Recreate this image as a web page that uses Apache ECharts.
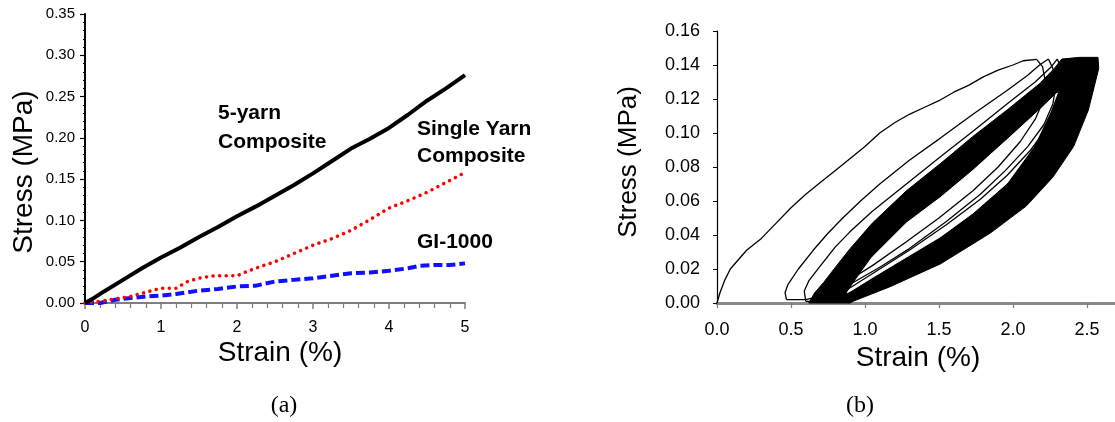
<!DOCTYPE html>
<html><head><meta charset="utf-8">
<script src="https://cdn.jsdelivr.net/npm/echarts@6/dist/echarts.min.js"></script>
<style>html,body{margin:0;padding:0;background:#fff}#c{width:1115px;height:422px}</style>
</head><body><div id="c"></div>
<script>
// ---------- Panel (a): monotonic tension, [strain %, stress MPa] ----------
const fiveYarn = [[0,0],[0.1,0.005],[0.25,0.014],[0.5,0.028],[0.75,0.042],[1,0.055],[1.25,0.067],[1.5,0.080],[1.75,0.092],[2,0.105],[2.25,0.117],[2.5,0.130],[2.75,0.143],[3,0.157],[3.25,0.172],[3.5,0.187],[3.75,0.199],[4,0.212],[4.25,0.228],[4.5,0.245],[4.75,0.260],[5,0.276]];
const singleYarn = [[0,0],[0.2,0.002],[0.4,0.005],[0.6,0.008],[0.8,0.013],[1.0,0.018],[1.2,0.018],[1.35,0.026],[1.5,0.030],[1.7,0.033],[2.0,0.033],[2.1,0.037],[2.3,0.044],[2.5,0.050],[2.75,0.060],[3.0,0.070],[3.25,0.078],[3.5,0.088],[3.75,0.101],[4.0,0.115],[4.25,0.124],[4.5,0.134],[4.75,0.146],[5.0,0.158]];
const gi1000 = [[0,0],[0.2,0.000],[0.4,0.004],[0.6,0.006],[0.8,0.008],[1.0,0.009],[1.2,0.011],[1.5,0.015],[1.75,0.017],[2.0,0.020],[2.25,0.021],[2.5,0.026],[2.75,0.028],[3.0,0.030],[3.25,0.033],[3.5,0.036],[3.75,0.037],[4.0,0.039],[4.25,0.042],[4.4,0.045],[4.6,0.046],[4.8,0.046],[5.0,0.048]];
const labelsA = ['5-yarn','Composite','Single Yarn','Composite','GI-1000'];

// ---------- Panel (b): cyclic loading hysteresis ----------
const firstLoading = [[0,0],[0.02,0.006],[0.05,0.013],[0.09,0.020],[0.15,0.026],[0.2,0.031],[0.3,0.038],[0.4,0.047],[0.5,0.056],[0.6,0.064],[0.7,0.071],[0.8,0.078],[0.9,0.085],[1.0,0.092],[1.1,0.100],[1.2,0.106],[1.3,0.111],[1.4,0.115],[1.5,0.119],[1.6,0.124],[1.7,0.128],[1.8,0.133],[1.9,0.137],[2.0,0.140],[2.07,0.1425],[2.16,0.1433]];
const unloading1 = [[2.16,0.1433],[2.2,0.139],[2.22,0.13],[2.21,0.12],[2.15,0.108],[2.05,0.095],[1.9,0.080],[1.73,0.066],[1.5,0.050],[1.28,0.036],[1.05,0.022],[0.85,0.011],[0.7,0.004],[0.6,0.002],[0.47,0.002]];
const loading2 = [[0.47,0.002],[0.46,0.006],[0.48,0.011],[0.55,0.020],[0.65,0.031],[0.75,0.041],[0.85,0.050],[0.97,0.060],[1.1,0.070],[1.3,0.084],[1.51,0.097],[1.73,0.111],[1.96,0.125],[2.1,0.134],[2.18,0.140],[2.24,0.1435]];
const unloading2 = [[2.24,0.1435],[2.27,0.138],[2.29,0.128],[2.27,0.117],[2.21,0.105],[2.1,0.092],[1.95,0.078],[1.78,0.064],[1.55,0.048],[1.3,0.032],[1.1,0.021],[0.9,0.011],[0.75,0.004],[0.63,0.001],[0.6,0.001]];
const loading3 = [[0.6,0.001],[0.59,0.007],[0.62,0.013],[0.7,0.022],[0.8,0.033],[0.9,0.042],[1.05,0.054],[1.28,0.070],[1.51,0.086],[1.73,0.101],[1.96,0.117],[2.15,0.130],[2.26,0.139],[2.3,0.1435]];
const unloading3 = [[2.3,0.1435],[2.33,0.137],[2.34,0.127],[2.31,0.116],[2.24,0.104],[2.12,0.090],[1.96,0.075],[1.78,0.061],[1.55,0.046],[1.3,0.031],[1.1,0.020],[0.9,0.009],[0.75,0.003],[0.65,0.001]];
const denseBand = [[0.62,0],[0.66,0.006],[0.72,0.012],[0.8,0.021],[0.9,0.032],[1.05,0.047],[1.28,0.066],[1.51,0.082],[1.73,0.098],[1.96,0.1135],[2.18,0.129],[2.28,0.138],[2.33,0.1435],[2.45,0.1445],[2.575,0.1445],[2.58,0.138],[2.566,0.133],[2.51,0.1135],[2.41,0.092],[2.27,0.074],[2.09,0.057],[1.845,0.041],[1.51,0.023],[1.17,0.0096],[0.92,0.001],[0.9,0]];
const lens = [[0.88,0.006],[0.95,0.015],[1.05,0.027],[1.28,0.047],[1.51,0.062],[1.73,0.078],[1.96,0.096],[2.18,0.1135],[2.30,0.1235],[2.25,0.112],[2.14,0.092],[1.96,0.0705],[1.73,0.053],[1.51,0.039],[1.28,0.027],[1.05,0.015],[0.92,0.008]];

const SANS = "'Liberation Sans', Arial, Helvetica, sans-serif";
const SERIF = "'Liberation Serif', 'Times New Roman', serif";

const chart = echarts.init(document.getElementById('c'), null, {renderer:'canvas'});

function poly(data, fill, xi, yi){
  return {type:'custom', xAxisIndex:xi, yAxisIndex:yi, silent:true, clip:false, data:[[0,0]],
    renderItem:(p, api)=>({type:'polygon', shape:{points:data.map(d=>api.coord(d))}, style:{fill:fill, stroke:fill, lineWidth:1}})};
}
function thin(data){
  return {type:'line', xAxisIndex:1, yAxisIndex:1, data:data, showSymbol:false, symbol:'none', silent:true,
    lineStyle:{color:'#000', width:1.3}, z:5};
}
function txt(t, x, y, size, opts){
  return Object.assign({type:'text', x:x, y:y, silent:true,
    style:{text:t, fill:'#000', font:(opts&&opts.bold?'bold ':'')+size+'px '+((opts&&opts.serif)?SERIF:SANS),
    textAlign:(opts&&opts.align)||'center', textVerticalAlign:'middle'}}, (opts&&opts.rot)?{rotation:Math.PI/2}:{});
}

chart.setOption({
  animation:false,
  backgroundColor:'#fff',
  grid:[
    {left:85, top:14, width:380, height:289},
    {left:717, top:31, width:398, height:272}
  ],
  xAxis:[
    {gridIndex:0, type:'value', min:0, max:5, interval:1,
     axisLine:{show:true, onZero:false, lineStyle:{color:'#7f7f7f', width:2}},
     axisTick:{show:true, length:6, lineStyle:{color:'#7f7f7f', width:1.5}},
     minorTick:{show:true, splitNumber:5, length:5, lineStyle:{color:'#7f7f7f', width:1.2}},
     splitLine:{show:false},
     axisLabel:{fontSize:16, color:'#000', margin:17, fontFamily:SANS}},
    {gridIndex:1, type:'value', min:0, max:2.69, interval:0.5,
     axisLine:{show:true, onZero:false, lineStyle:{color:'#8a8a8a', width:3}},
     axisTick:{show:true, length:5, lineStyle:{color:'#7f7f7f', width:1.2}},
     splitLine:{show:false},
     axisLabel:{fontSize:18, color:'#000', margin:18, fontFamily:SANS, showMaxLabel:false,
       formatter:v=>(Math.abs(v*2-Math.round(v*2))<1e-6 ? v.toFixed(1) : '')}}
  ],
  yAxis:[
    {gridIndex:0, type:'value', min:0, max:0.35, interval:0.05,
     axisLine:{show:true, lineStyle:{color:'#000', width:2}},
     axisTick:{show:true, length:5, lineStyle:{color:'#000', width:1.2}},
     minorTick:{show:true, splitNumber:5, length:2, lineStyle:{color:'#000', width:1}},
     splitLine:{show:false},
     axisLabel:{fontSize:15, color:'#000', margin:10, fontFamily:SANS, formatter:v=>v.toFixed(2)}},
    {gridIndex:1, type:'value', min:0, max:0.16, interval:0.02,
     axisLine:{show:true, lineStyle:{color:'#000', width:1.2}},
     axisTick:{show:true, length:4, lineStyle:{color:'#000', width:1}},
     splitLine:{show:false},
     axisLabel:{fontSize:18, color:'#000', margin:17, fontFamily:SANS, formatter:v=>v.toFixed(2)}}
  ],
  series:[
    {type:'line', xAxisIndex:0, yAxisIndex:0, data:gi1000, symbol:'none', z:3,
     lineStyle:{color:'#1010ff', width:4, type:[9,4]}},
    {type:'line', xAxisIndex:0, yAxisIndex:0, data:singleYarn, symbol:'none', z:4,
     lineStyle:{color:'#ff0000', width:3.5, type:[0.1,6.5], cap:'round'}},
    {type:'line', xAxisIndex:0, yAxisIndex:0, data:fiveYarn, symbol:'none', z:5,
     lineStyle:{color:'#000', width:4}},
    poly(denseBand, '#000', 1, 1),
    poly(lens, '#fff', 1, 1),
    thin(firstLoading), thin(unloading1), thin(loading2), thin(unloading2), thin(loading3), thin(unloading3)
  ],
  graphic:[
    txt('Stress (MPa)', 24, 172, 28, {rot:true}),
    txt('Strain (%)', 280, 353, 28),
    txt('(a)', 284, 406, 24, {serif:true}),
    txt(labelsA[0], 218, 113, 21, {bold:true, align:'left'}),
    txt(labelsA[1], 218, 142, 21, {bold:true, align:'left'}),
    txt(labelsA[2], 417, 129, 21, {bold:true, align:'left'}),
    txt(labelsA[3], 417, 156, 21, {bold:true, align:'left'}),
    txt(labelsA[4], 417, 242, 21, {bold:true, align:'left'}),
    txt('Stress (MPa)', 629, 162, 26, {rot:true}),
    txt('Strain (%)', 918, 358, 28),
    txt('(b)', 860, 406, 24, {serif:true})
  ]
});
</script></body></html>
